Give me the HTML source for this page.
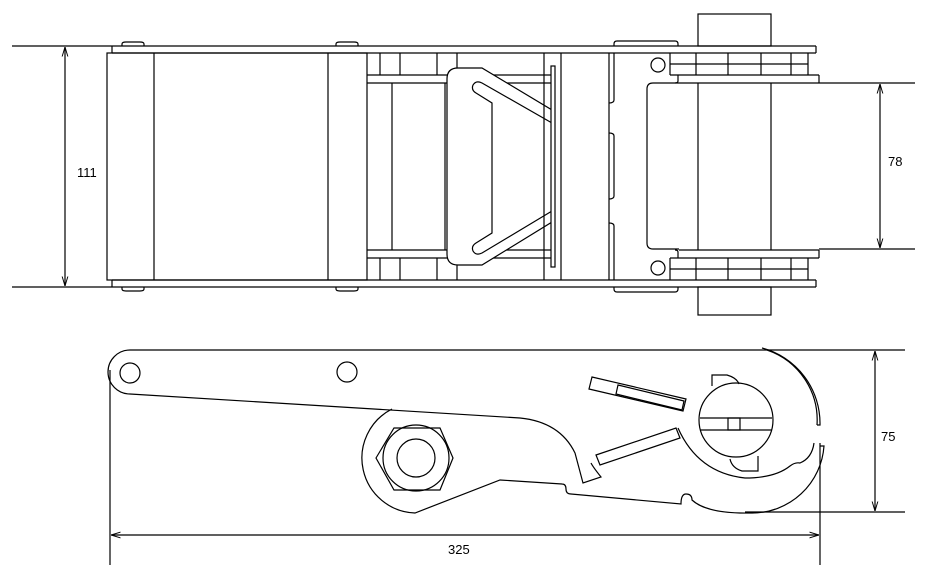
<!DOCTYPE html>
<html><head><meta charset="utf-8"><style>
html,body{margin:0;padding:0;background:#fff;width:929px;height:579px;overflow:hidden}
text{font-family:"Liberation Sans",sans-serif;font-size:13px;fill:#000;stroke:none}
</style></head><body>
<svg width="929" height="579" viewBox="0 0 929 579" xmlns="http://www.w3.org/2000/svg" fill="none" stroke="#000" stroke-width="1.2">
<defs>
<marker id="a" viewBox="0 0 10 10" refX="10" refY="5" markerWidth="8" markerHeight="8" orient="auto-start-reverse"><path d="M0,2 L10,5 L0,8" stroke="#000" stroke-width="1" fill="none"/></marker>
</defs>
<!-- TOP VIEW -->
<line x1="12" y1="46" x2="816" y2="46"/>
<line x1="12" y1="287" x2="816" y2="287"/>
<line x1="112" y1="53" x2="816" y2="53"/>
<line x1="112" y1="280" x2="816" y2="280"/>
<line x1="816" y1="46" x2="816" y2="53"/>
<line x1="816" y1="280" x2="816" y2="287"/>
<line x1="112" y1="46" x2="112" y2="53"/>
<line x1="112" y1="280" x2="112" y2="287"/>
<line x1="65" y1="47" x2="65" y2="286" marker-start="url(#a)" marker-end="url(#a)"/>
<text x="77" y="177">111</text>
<rect x="107" y="53" width="260" height="227"/>
<line x1="154" y1="53" x2="154" y2="280"/>
<line x1="328" y1="53" x2="328" y2="280"/>
<path d="M122,46 v-2 q0,-2 4,-2 h14 q4,0 4,2 v2"/>
<path d="M336,46 v-2 q0,-2 4,-2 h14 q4,0 4,2 v2"/>
<path d="M122,287 v2 q0,2 4,2 h14 q4,0 4,-2 v-2"/>
<path d="M336,287 v2 q0,2 4,2 h14 q4,0 4,-2 v-2"/>
<line x1="367" y1="75" x2="447" y2="75"/><line x1="367" y1="83" x2="447" y2="83"/>
<line x1="367" y1="250" x2="447" y2="250"/><line x1="367" y1="258" x2="447" y2="258"/>
<line x1="380" y1="53" x2="380" y2="75"/><line x1="400" y1="53" x2="400" y2="75"/><line x1="437" y1="53" x2="437" y2="75"/>
<line x1="380" y1="258" x2="380" y2="280"/><line x1="400" y1="258" x2="400" y2="280"/><line x1="437" y1="258" x2="437" y2="280"/>
<line x1="392" y1="83" x2="392" y2="250"/><line x1="445" y1="83" x2="445" y2="250"/>
<line x1="457" y1="53" x2="457" y2="280"/>
<line x1="447" y1="75" x2="552" y2="75"/><line x1="447" y1="83" x2="552" y2="83"/>
<line x1="447" y1="250" x2="552" y2="250"/><line x1="447" y1="258" x2="552" y2="258"/>
<path d="M458,68 h24 l70,42 v112 l-70,43 h-24 q-11,0 -11,-11 v-175 q0,-11 11,-11 Z" fill="#fff"/>
<path d="M552,123 l-70,-40 q-6,-3 -9,2 q-2,5 3,8 l16,10 v130 l-16,10 q-5,3 -3,8 q3,5 9,2 l70,-42"/>
<rect x="551" y="66" width="4" height="201" fill="#fff"/>
<line x1="544" y1="53" x2="544" y2="280"/>
<line x1="561" y1="53" x2="561" y2="280"/>
<line x1="609" y1="53" x2="609" y2="280"/>
<path d="M614,53 v47 q0,3 -5,3 M609,133 q5,0 5,3 v60 q0,3 -5,3 M609,223 q5,0 5,3 v54"/>
<path d="M614,46 v-2 q0,-3 3,-3 h58 q3,0 3,3 v2"/>
<path d="M614,287 v2 q0,3 3,3 h58 q3,0 3,-3 v-2"/>
<circle cx="658" cy="65" r="7"/><circle cx="658" cy="268" r="7"/>
<path d="M670,53 v22"/><line x1="670" y1="64" x2="808" y2="64"/><line x1="670" y1="75" x2="819" y2="75"/>
<path d="M678,75 v6 q0,2 -3,2"/>
<line x1="679" y1="83" x2="819" y2="83"/><line x1="819" y1="75" x2="819" y2="83"/>
<line x1="696" y1="53" x2="696" y2="75"/><line x1="728" y1="53" x2="728" y2="75"/><line x1="761" y1="53" x2="761" y2="75"/><line x1="791" y1="53" x2="791" y2="75"/><line x1="808" y1="53" x2="808" y2="75"/>
<path d="M670,258 v22"/><line x1="670" y1="269" x2="808" y2="269"/><line x1="670" y1="258" x2="819" y2="258"/>
<path d="M678,258 v-6 q0,-2 -3,-2"/>
<line x1="679" y1="250" x2="819" y2="250"/><line x1="819" y1="250" x2="819" y2="258"/>
<line x1="696" y1="258" x2="696" y2="280"/><line x1="728" y1="258" x2="728" y2="280"/><line x1="761" y1="258" x2="761" y2="280"/><line x1="791" y1="258" x2="791" y2="280"/><line x1="808" y1="258" x2="808" y2="280"/>
<path d="M679,83 h-26 q-6,0 -6,6 v154 q0,6 6,6 h26"/>
<line x1="698" y1="83" x2="698" y2="250"/><line x1="771" y1="83" x2="771" y2="250"/>
<rect x="698" y="14" width="73" height="32"/>
<rect x="698" y="287" width="73" height="28"/>
<line x1="819" y1="83" x2="915" y2="83"/><line x1="819" y1="249" x2="915" y2="249"/>
<line x1="880" y1="84" x2="880" y2="248" marker-start="url(#a)" marker-end="url(#a)"/>
<text x="888" y="166">78</text>
<!-- SIDE VIEW -->
<line x1="130" y1="350" x2="762" y2="350"/>
<path d="M130,350 a22,22 0 0 0 0,44 L520,418 q40,4 55,35 l8,30 l18,-6 q-8,-10 -10,-14"/>
<circle cx="130" cy="373" r="10"/><circle cx="347" cy="372" r="10"/>
<path d="M392,409 a55,55 0 0 0 23,104 l85,-33 l62,4 q4,0 4,5 q0,5 5,5 l110,10 q0,-10 5,-10 q6,0 6,6 q15,14 60,13 a72,72 0 0 0 72,-67 h-4"/>
<path d="M678,428 q20,45 67,50 q30,0 45,-12 q5,-4 10,-3 q12,-5 14,-20"/>
<path d="M762,348 a78,78 0 0 1 58,77 h-3"/>
<path d="M767,350 a74,74 0 0 1 50,75"/>
<polygon points="376,458 394,428 440,428 453,458 440,490 394,490"/>
<circle cx="416" cy="458" r="33"/>
<circle cx="416" cy="458" r="19"/>
<circle cx="736" cy="420" r="37"/>
<line x1="700" y1="418" x2="772" y2="418"/><line x1="700" y1="430" x2="772" y2="430"/>
<rect x="728" y="418" width="12" height="12"/>
<path d="M712,386 v-11 h15 q10,3 12,9"/>
<path d="M758,456 v15 h-16 q-10,-3 -12,-12"/>
<path d="M592,377 l94,22 l-3,12 l-94,-22 z"/>
<path d="M618,385 l66,16 l-2,9 l-66,-16 z"/>
<path d="M596,455 l80,-27 l4,10 l-80,27 z"/>
<line x1="110" y1="370" x2="110" y2="565"/>
<line x1="820" y1="443" x2="820" y2="565"/>
<line x1="111" y1="535" x2="819" y2="535" marker-start="url(#a)" marker-end="url(#a)"/>
<text x="448" y="554">325</text>
<line x1="762" y1="350" x2="905" y2="350"/>
<line x1="745" y1="512" x2="905" y2="512"/>
<line x1="875" y1="351" x2="875" y2="511" marker-start="url(#a)" marker-end="url(#a)"/>
<text x="881" y="441">75</text>
</svg>
</body></html>
